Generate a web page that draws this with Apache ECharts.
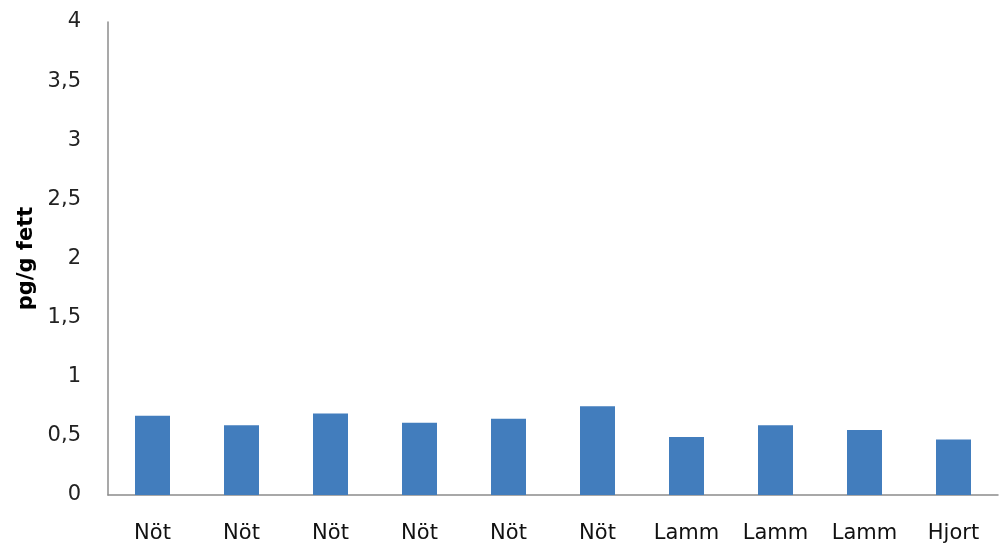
<!DOCTYPE html>
<html>
<head>
<meta charset="utf-8">
<script src="https://cdn.jsdelivr.net/npm/echarts@6/dist/echarts.min.js"></script>
<style>
  html, body { margin: 0; padding: 0; background: #fff; }
  #chart { width: 999px; height: 547px; }
</style>
</head>
<body>
<div id="chart"></div>
<script>
// Samples and measured concentrations (pg/g fett)
const categories = ['Nöt', 'Nöt', 'Nöt', 'Nöt', 'Nöt', 'Nöt', 'Lamm', 'Lamm', 'Lamm', 'Hjort'];
const values = [0.67, 0.59, 0.69, 0.61, 0.645, 0.75, 0.49, 0.59, 0.55, 0.47];
const yAxisTitle = 'pg/g fett';

const chart = echarts.init(document.getElementById('chart'));
const fontFamily = 'DejaVu Sans, Verdana, sans-serif';

chart.setOption({
  animation: false,
  grid: { left: 108, right: 1, top: 22, bottom: 52 },
  xAxis: {
    type: 'category',
    data: categories,
    axisLine: { lineStyle: { color: '#8c8c8c', width: 1.5 } },
    axisTick: { show: false },
    axisLabel: { color: '#111', fontSize: 21, fontFamily: fontFamily, margin: 28, interval: 0 }
  },
  yAxis: {
    type: 'value',
    min: 0,
    max: 4,
    interval: 0.5,
    name: yAxisTitle,
    nameLocation: 'middle',
    nameGap: 71,
    nameRotate: 90,
    nameTextStyle: { color: '#000', fontSize: 21, fontWeight: 'bold', fontFamily: fontFamily },
    axisLine: { show: true, lineStyle: { color: '#8c8c8c', width: 1.5 } },
    axisTick: { show: false },
    splitLine: { show: false },
    axisLabel: {
      color: '#222',
      fontSize: 21,
      fontFamily: fontFamily,
      margin: 27,
      formatter: v => String(v).replace('.', ',')
    }
  },
  series: [{
    type: 'bar',
    data: values,
    barWidth: 35,
    itemStyle: { color: '#427dbd' }
  }]
});
</script>
</body>
</html>
